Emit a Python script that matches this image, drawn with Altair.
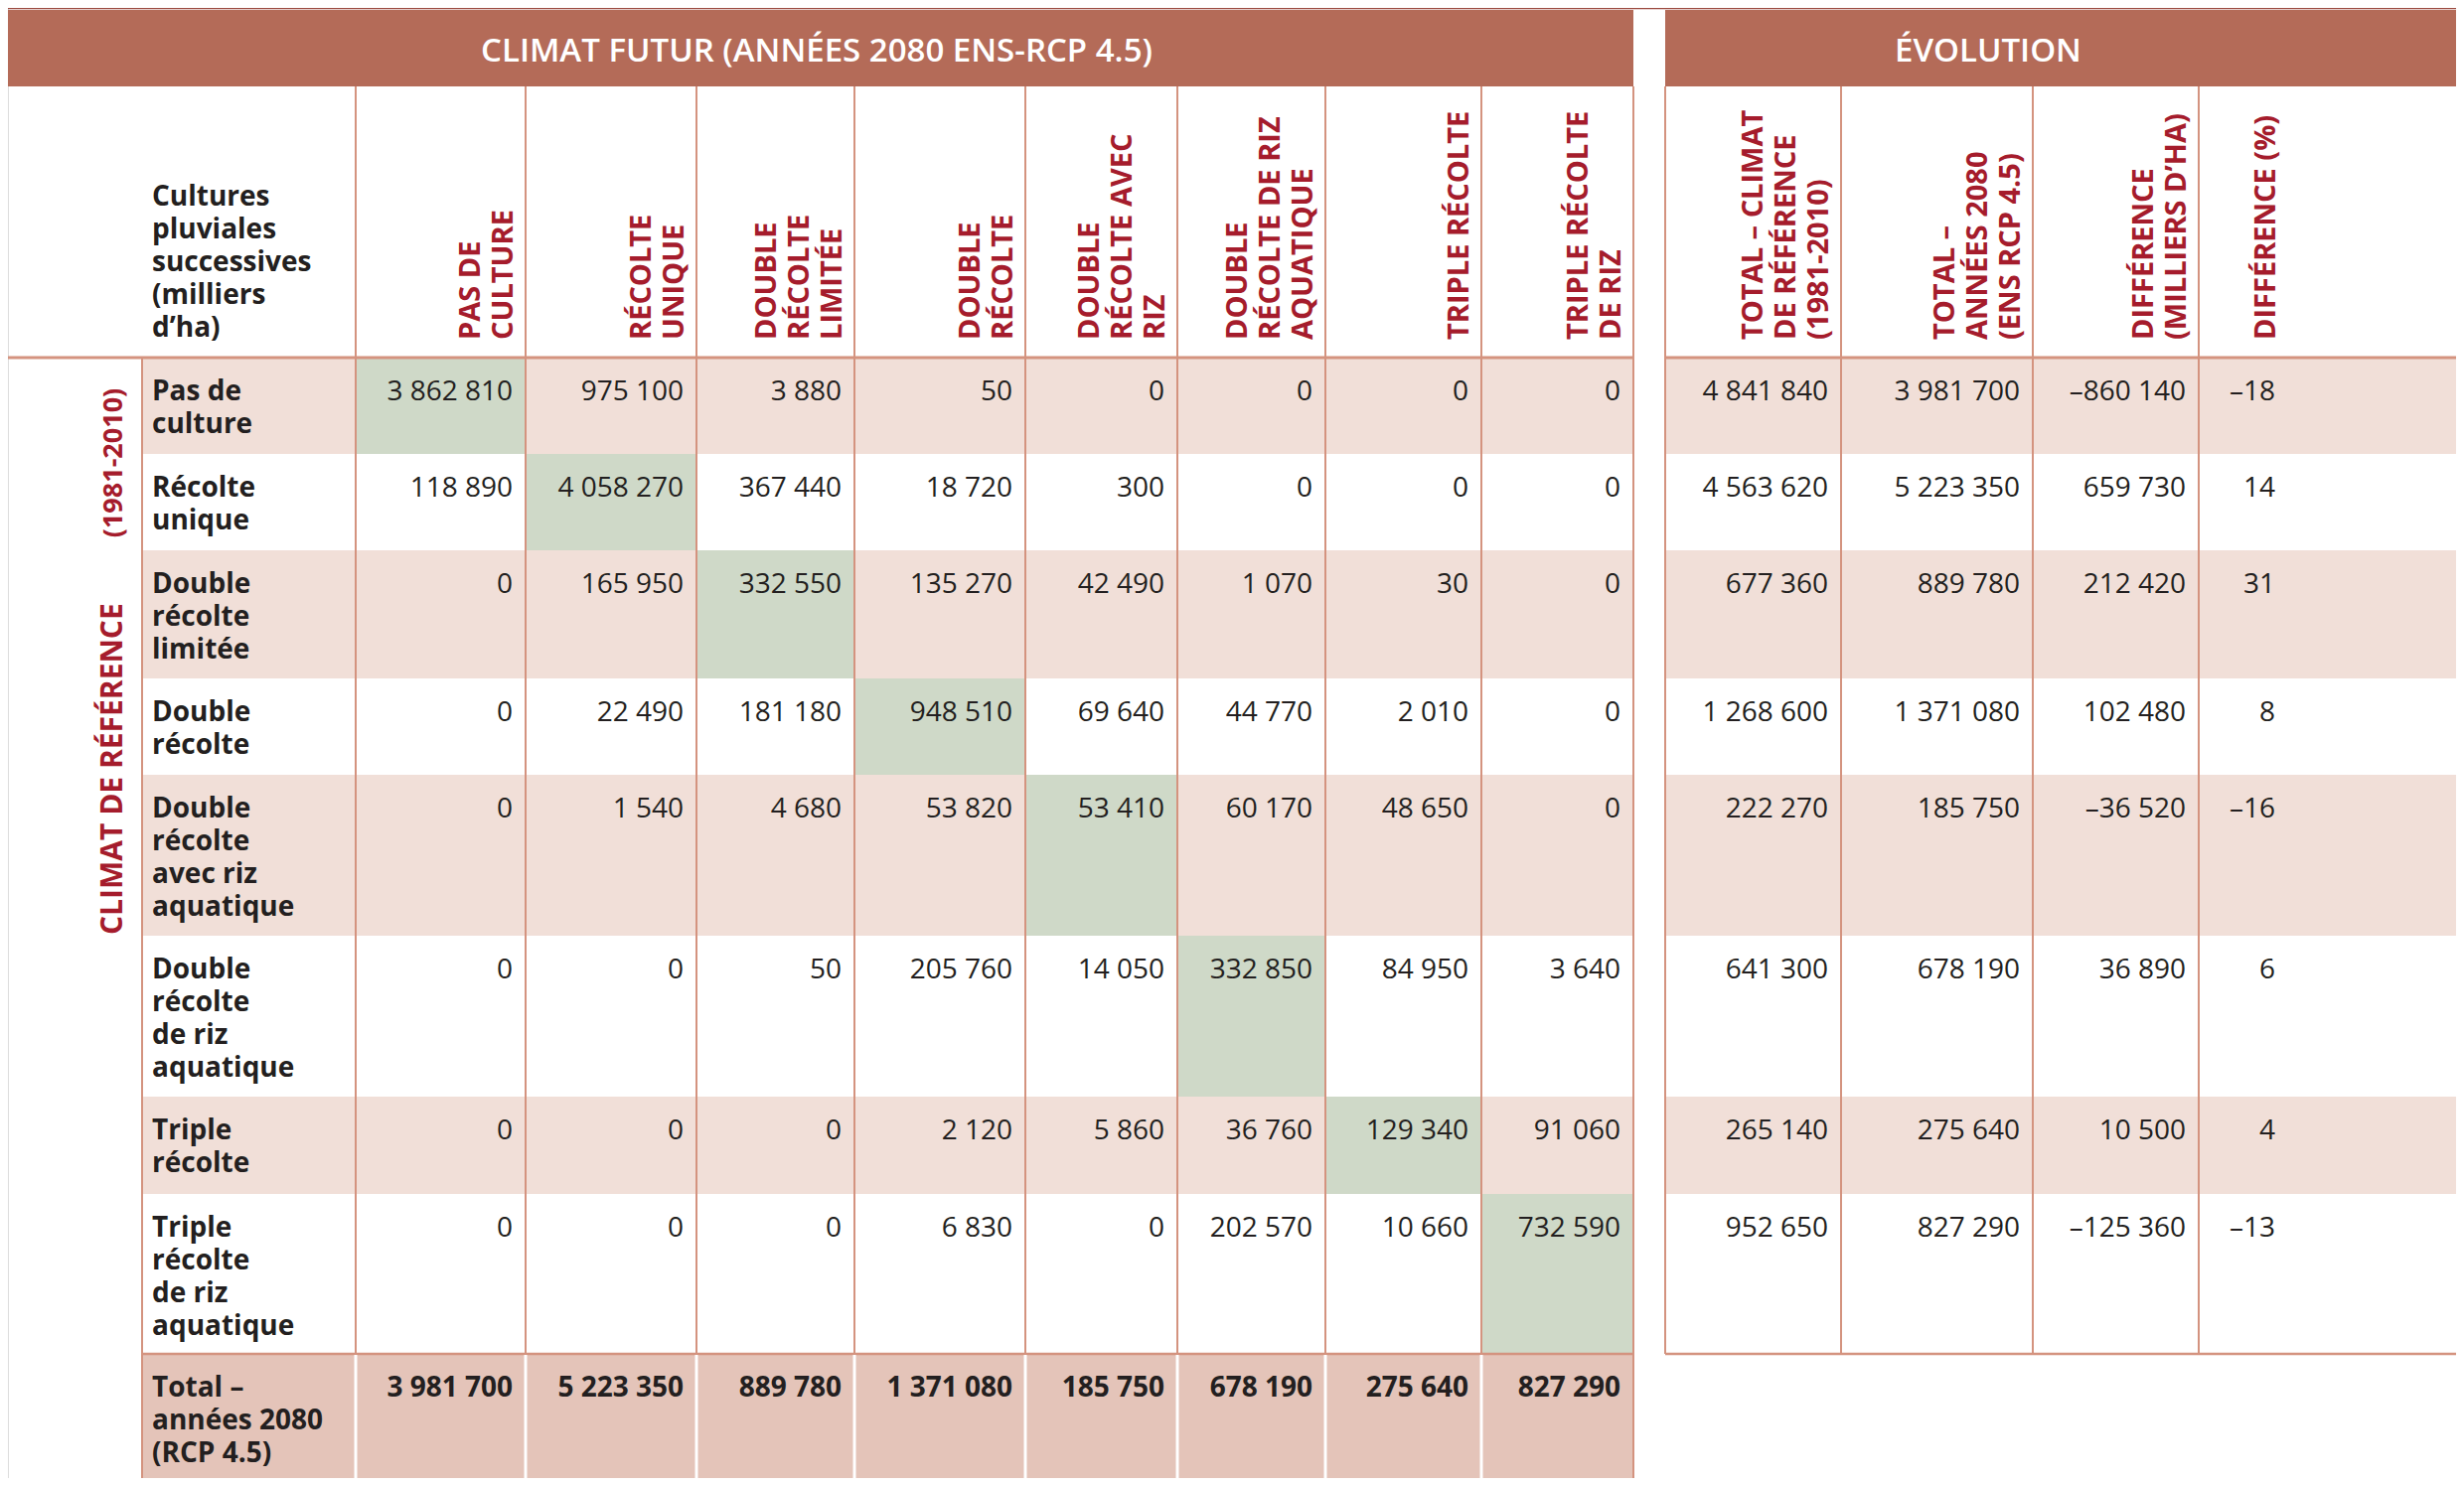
import altair as alt
import pandas as pd

# ---------------- data ----------------
ref_rows = ["Pas de\nculture", "Récolte\nunique", "Double\nrécolte\nlimitée", "Double\nrécolte",
            "Double\nrécolte\navec riz\naquatique", "Double\nrécolte\nde riz\naquatique",
            "Triple\nrécolte", "Triple\nrécolte\nde riz\naquatique"]
total_row_label = "Total –\nannées 2080\n(RCP 4.5)"
corner_label = "Cultures\npluviales\nsuccessives\n(milliers\nd’ha)"
future_cols = ["PAS DE\nCULTURE", "RÉCOLTE\nUNIQUE", "DOUBLE\nRÉCOLTE\nLIMITÉE", "DOUBLE\nRÉCOLTE",
               "DOUBLE\nRÉCOLTE AVEC\nRIZ", "DOUBLE\nRÉCOLTE DE RIZ\nAQUATIQUE", "TRIPLE RÉCOLTE",
               "TRIPLE RÉCOLTE\nDE RIZ"]
evo_cols = ["TOTAL – CLIMAT\nDE RÉFÉRENCE\n(1981-2010)", "TOTAL –\nANNÉES 2080\n(ENS RCP 4.5)",
            "DIFFÉRENCE\n(MILLIERS D’HA)", "DIFFÉRENCE (%)"]
band_titles = ["CLIMAT FUTUR (ANNÉES 2080 ENS-RCP 4.5)", "ÉVOLUTION"]
group_label = "CLIMAT DE RÉFÉRENCE"
group_period = "(1981-2010)"

row_pas_de_culture = [3862810, 975100, 3880, 50, 0, 0, 0, 0]
row_recolte_unique = [118890, 4058270, 367440, 18720, 300, 0, 0, 0]
row_double_limitee = [0, 165950, 332550, 135270, 42490, 1070, 30, 0]
row_double = [0, 22490, 181180, 948510, 69640, 44770, 2010, 0]
row_double_avec_riz = [0, 1540, 4680, 53820, 53410, 60170, 48650, 0]
row_double_riz = [0, 0, 50, 205760, 14050, 332850, 84950, 3640]
row_triple = [0, 0, 0, 2120, 5860, 36760, 129340, 91060]
row_triple_riz = [0, 0, 0, 6830, 0, 202570, 10660, 732590]
totals_2080 = [3981700, 5223350, 889780, 1371080, 185750, 678190, 275640, 827290]

total_ref = [4841840, 4563620, 677360, 1268600, 222270, 641300, 265140, 952650]
total_fut = [3981700, 5223350, 889780, 1371080, 185750, 678190, 275640, 827290]
diff_kha = [-860140, 659730, 212420, 102480, -36520, 36890, 10500, -125360]
diff_pct = [-18, 14, 31, 8, -16, 6, 4, -13]

matrix = [row_pas_de_culture, row_recolte_unique, row_double_limitee, row_double,
          row_double_avec_riz, row_double_riz, row_triple, row_triple_riz]

# ---------------- layout ----------------
W, H = 2464, 1480
OFF = 8
col_edges = [358, 529, 701, 860, 1032, 1185, 1334, 1491, 1644]
evo_edges = [1676, 1853, 2046, 2213, 2480]
row_edges = [360, 457, 554, 683, 780, 942, 1104, 1202, 1363, 1492]
LH = 33
PADR = 13
PCT_RIGHT = 2290

BAND = "#b46b58"
PINK = "#f1dfd8"
GREEN = "#cfd9c8"
TOTAL = "#e4c4b9"
GRID = "#d4937f"
RED = "#a51c2c"
INK = "#231f20"


def fmt(v):
    s = f"{abs(v):,}".replace(",", " ")
    return ("–" if v < 0 else "") + s


xs = alt.Scale(domain=[OFF, OFF + W], range=[0, W], nice=False, zero=False)
ys = alt.Scale(domain=[OFF, OFF + H], range=[0, H], nice=False, zero=False)

# ---------------- rects ----------------
rects = []
rects.append(dict(x=7, x2=1644, y=10, y2=87, c=BAND))
rects.append(dict(x=1676, x2=2480, y=10, y2=87, c=BAND))
for r in range(8):
    if r % 2 == 0:
        rects.append(dict(x=143, x2=1644, y=row_edges[r], y2=row_edges[r + 1], c=PINK))
        rects.append(dict(x=1676, x2=2480, y=row_edges[r], y2=row_edges[r + 1], c=PINK))
    rects.append(dict(x=col_edges[r], x2=col_edges[r + 1], y=row_edges[r], y2=row_edges[r + 1], c=GREEN))
rects.append(dict(x=143, x2=1644, y=row_edges[8], y2=row_edges[9], c=TOTAL))
rect_df = pd.DataFrame(rects)

rect_layer = alt.Chart(rect_df).mark_rect().encode(
    x=alt.X("x:Q", scale=xs, axis=None), x2="x2:Q",
    y=alt.Y("y:Q", scale=ys, axis=None), y2="y2:Q",
    color=alt.Color("c:N", scale=None))

# ---------------- rules ----------------
rules = []
rules.append(dict(x=0, x2=2480, y=8.6, y2=8.6, c="#9c4a40", w=1.2))
rules.append(dict(x=7, x2=1644, y=360, y2=360, c=GRID, w=3))
rules.append(dict(x=1676, x2=2480, y=360, y2=360, c=GRID, w=3))
rules.append(dict(x=143, x2=1644, y=1363, y2=1363, c=GRID, w=2.5))
rules.append(dict(x=1676, x2=2480, y=1363, y2=1363, c=GRID, w=2.5))
rules.append(dict(x=7, x2=1645, y=1492, y2=1492, c=GRID, w=3))
rules.append(dict(x=143, x2=143, y=360, y2=1492, c=GRID, w=2))
for e in col_edges[:-1]:
    rules.append(dict(x=e, x2=e, y=87, y2=1363, c=GRID, w=2))
    rules.append(dict(x=e, x2=e, y=1364, y2=1492, c="#ffffff", w=3))
rules.append(dict(x=1644, x2=1644, y=87, y2=1492, c=GRID, w=2))
for e in evo_edges[:-1]:
    rules.append(dict(x=e, x2=e, y=87, y2=1363, c=GRID, w=2))
rule_df = pd.DataFrame(rules)

rule_layer = alt.Chart(rule_df).mark_rule().encode(
    x=alt.X("x:Q", scale=xs, axis=None), x2="x2:Q",
    y=alt.Y("y:Q", scale=ys, axis=None), y2="y2:Q",
    color=alt.Color("c:N", scale=None),
    strokeWidth=alt.StrokeWidth("w:Q", scale=None))


def text_layer(items, **kw):
    df = pd.DataFrame(items)
    return alt.Chart(df).mark_text(lineBreak="\n", lineHeight=LH, **kw).encode(
        x=alt.X("x:Q", scale=xs, axis=None),
        y=alt.Y("y:Q", scale=ys, axis=None),
        text=alt.Text("t:N"))


# band titles
band_items = [dict(x=822, y=62, t=band_titles[0]), dict(x=2001, y=62, t=band_titles[1])]
band_layer = text_layer(band_items, font="Open Sans", fontWeight=600, fontSize=33,
                        color="#ffffff", align="center", baseline="alphabetic")

# rotated column headers (multi-line, first line leftmost)
head_items = []
rights = [e - PADR for e in col_edges[1:]] + [e - PADR for e in evo_edges[1:4]] + [PCT_RIGHT]
for label, right in zip(future_cols + evo_cols, rights):
    n = len(label.split("\n"))
    head_items.append(dict(x=right - (n - 1) * LH, y=342, t=label))
head_layer = text_layer(head_items, font="Open Sans", fontWeight=700, fontSize=29, color=RED,
                        align="left", baseline="alphabetic", angle=270)

group_layer = text_layer([dict(x=123, y=941, t=group_label)], font="Open Sans", fontWeight=700,
                         fontSize=30, color=RED, align="left", baseline="alphabetic", angle=270)
period_layer = text_layer([dict(x=123, y=466, t=group_period)], font="Open Sans", fontWeight=700,
                          fontSize=27, color=RED, align="center", baseline="alphabetic", angle=270)

# row labels (bold, dark)
lab_items = [dict(x=153, y=207, t=corner_label)]
for r, lab in enumerate(ref_rows + [total_row_label]):
    lab_items.append(dict(x=153, y=row_edges[r] + 43, t=lab))
lab_layer = text_layer(lab_items, font="Open Sans", fontWeight=700, fontSize=28, color=INK,
                       align="left", baseline="alphabetic")

# numbers
num_items = []
for r, row in enumerate(matrix):
    for j, v in enumerate(row):
        num_items.append(dict(x=col_edges[j + 1] - PADR, y=row_edges[r] + 43, t=fmt(v)))
for r in range(8):
    vals = [total_ref[r], total_fut[r], diff_kha[r]]
    for j, v in enumerate(vals):
        num_items.append(dict(x=evo_edges[j + 1] - PADR, y=row_edges[r] + 43, t=fmt(v)))
    num_items.append(dict(x=PCT_RIGHT, y=row_edges[r] + 43, t=fmt(diff_pct[r])))
num_layer = text_layer(num_items, font="Open Sans", fontWeight=400, fontSize=28, color=INK,
                       align="right", baseline="alphabetic")

tot_items = [dict(x=col_edges[j + 1] - PADR, y=row_edges[8] + 43, t=fmt(v))
             for j, v in enumerate(totals_2080)]
tot_layer = text_layer(tot_items, font="Open Sans", fontWeight=700, fontSize=28, color=INK,
                       align="right", baseline="alphabetic")

chart = alt.layer(rect_layer, rule_layer, band_layer, head_layer, group_layer, period_layer,
                  lab_layer, num_layer, tot_layer).properties(
    width=W, height=H, padding=0,
    autosize=alt.AutoSizeParams(type="none"),
).configure_view(strokeWidth=0).configure(background="#ffffff")

chart.save("out.html", embed_options={"renderer": "svg", "actions": False})
